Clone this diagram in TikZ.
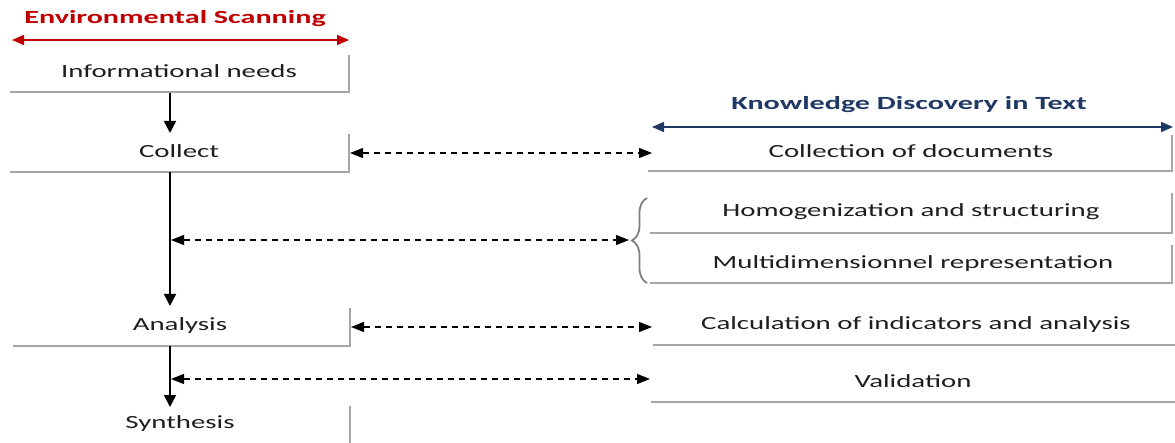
\documentclass[tikz,border=0pt]{standalone}
\usepackage{fontspec}
\setmainfont{Carlito}[FakeStretch=1.55]
\newfontfamily\ttlfont{Carlito}[FakeStretch=1.62]
\usetikzlibrary{arrows.meta,decorations.pathreplacing}
\definecolor{txt}{HTML}{1E1E1E}
\definecolor{esred}{HTML}{C00000}
\definecolor{kdblue}{HTML}{1F3864}
\definecolor{boxgray}{HTML}{A6A6A6}
\definecolor{bracegray}{HTML}{7F7F7F}
\begin{document}
\begin{tikzpicture}[x=1pt,y=-1pt,
  lbl/.style={font=\fontsize{18.6}{22}\selectfont, text=txt, inner sep=0pt},
  ttl/.style={font=\fontsize{18.6}{22}\ttlfont\bfseries, inner sep=0pt},
  frame/.style={draw=boxgray, line width=1.8pt},
  flow/.style={draw=black, line width=1.6pt, -{Triangle[length=12pt,width=12pt]}},
  link/.style={draw=black, line width=1.4pt, dash pattern=on 6pt off 5pt, {Triangle[length=13pt,width=10pt]}-{Triangle[length=13pt,width=10pt]}},
  spanarrow/.style={line width=1.6pt, {Triangle[length=12pt,width=10pt]}-{Triangle[length=12pt,width=10pt]}}]
\useasboundingbox (0,0) rectangle (1175,443);
% titles
\node[ttl, text=esred] (es) at (175,19) {Environmental Scanning};
\coordinate (esL) at (12,40);
\coordinate (esR) at (349,40);
\draw[spanarrow, draw=esred, fill=esred] (esL) -- (esR);
\node[ttl, text=kdblue] (kd) at (909,105) {Knowledge Discovery in Text};
\coordinate (kdL) at (652,127);
\coordinate (kdR) at (1173,127);
\draw[spanarrow, draw=kdblue, fill=kdblue] (kdL) -- (kdR);
% left column
\node[lbl] (needs) at (179,71.5) {Informational needs};
\draw[frame] (10,92) -- (349,92) -- (349,55);
\node[lbl] (collect) at (179,151.5) {Collect};
\draw[frame] (10,172) -- (349,172) -- (349,134);
\node[lbl] (analysis) at (180,325.5) {Analysis};
\draw[frame] (13,346) -- (350,346) -- (350,308);
\node[lbl] (synthesis) at (180,423.5) {Synthesis};
\draw[frame] (350,406) -- (350,443);
% right column
\node[lbl] (docs) at (911,151.5) {Collection of documents};
\draw[frame] (648,171) -- (1172,171) -- (1172,135);
\node[lbl] (homog) at (911,211.5) {Homogenization and structuring};
\draw[frame] (650,233) -- (1172,233) -- (1172,193);
\node[lbl] (multi) at (913,263.5) {Multidimensionnel representation};
\draw[frame] (650,283) -- (1172,283) -- (1172,245);
\node[lbl] (calc) at (916,324.5) {Calculation of indicators and analysis};
\draw[frame] (653,345) -- (1175,345);
\node[lbl] (valid) at (913,381.5) {Validation};
\draw[frame] (651,402) -- (1175,402);
% brace
\draw[draw=bracegray, line width=1.8pt, decorate, decoration={brace, amplitude=15pt, aspect=0.5}] (647,283) -- (647,198);
\coordinate (braceTip) at (629,240);
% flow arrows
\coordinate (f1a) at (170,93);
\coordinate (f1b) at (170,133);
\coordinate (f2a) at (170,172);
\coordinate (f2b) at (170,306);
\coordinate (f3a) at (170,346);
\coordinate (f3b) at (170,407);
\draw[flow] (f1a) -- (f1b);
\draw[flow] (f2a) -- (f2b);
\draw[flow] (f3a) -- (f3b);
% dashed links
\coordinate (d1a) at (350,153);
\coordinate (d1b) at (652,153);
\coordinate (d2a) at (171,240);
\coordinate (d3a) at (351,327);
\coordinate (d3b) at (652,327);
\coordinate (d4a) at (171,379);
\coordinate (d4b) at (650,379);
\draw[link] (d1a) -- (d1b);
\draw[link] (d2a) -- (braceTip);
\draw[link] (d3a) -- (d3b);
\draw[link] (d4a) -- (d4b);
\end{tikzpicture}
\end{document}
